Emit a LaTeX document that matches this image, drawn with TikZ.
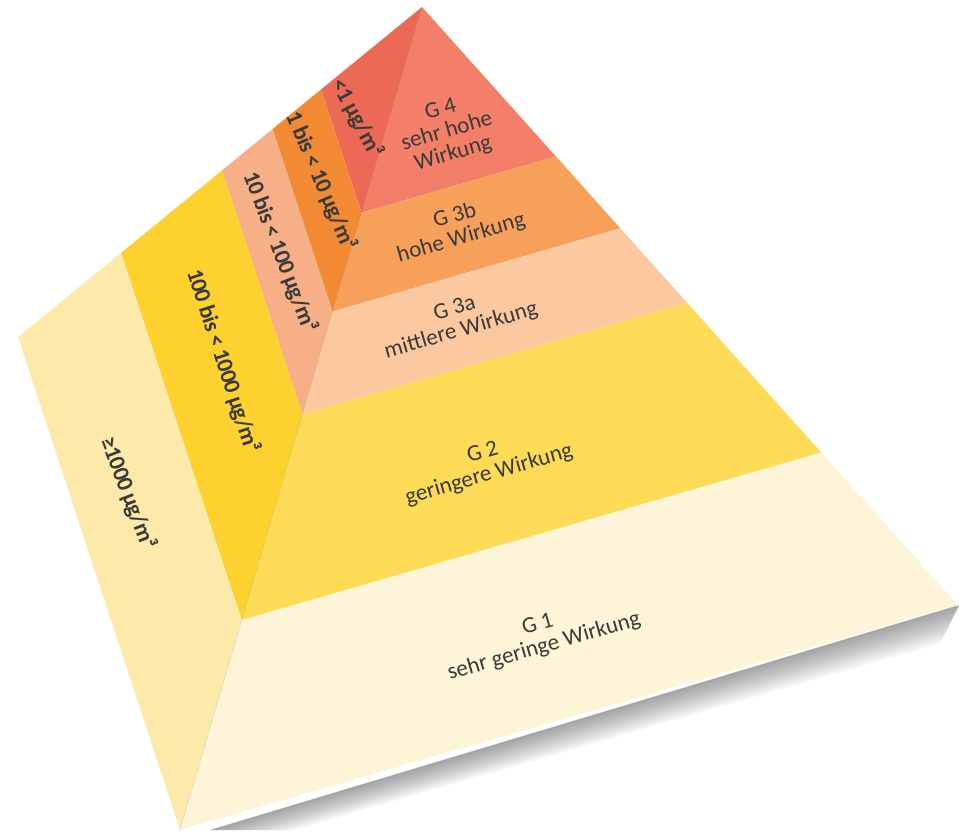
\documentclass[tikz,border=0pt]{standalone}
\usepackage{fontspec}
\setmainfont{Carlito}
\usetikzlibrary{calc}

\definecolor{redL}{HTML}{EC6A55}
\definecolor{redR}{HTML}{F47F69}
\definecolor{orangeL}{HTML}{F28A34}
\definecolor{orangeR}{HTML}{F7A05A}
\definecolor{peachL}{HTML}{F6AF86}
\definecolor{peachR}{HTML}{FCC8A0}
\definecolor{goldL}{HTML}{FDD22F}
\definecolor{goldR}{HTML}{FEDB56}
\definecolor{creamL}{HTML}{FDE9AA}
\definecolor{creamR}{HTML}{FEF4D7}
\definecolor{textgrey}{HTML}{3A3A3A}

\tikzset{
  glabel/.style={text=textgrey, align=center, rotate=16, inner sep=0pt,
    font=\fontsize{23}{23}\selectfont},
  clabel/.style={text=textgrey, inner sep=0pt,
    font=\bfseries\fontsize{23}{23}\selectfont\addfontfeature{LetterSpace=-3}},
}

\begin{document}
\begin{tikzpicture}[x=1pt, y=-1pt]
  \useasboundingbox (0,0) rectangle (959,833);
  % Corners
  \coordinate (A) at (422,7);
  \coordinate (L) at (18,337);
  \coordinate (F) at (180,830);
  \coordinate (R) at (958,605);
  % Band borders
  \foreach \n/\t in {1/0.25, 2/0.37, 3/0.495, 4/0.745}{
    \coordinate (l\n) at ($(A)!\t!(L)$);
    \coordinate (f\n) at ($(A)!\t!(F)$);
    \coordinate (r\n) at ($(A)!\t!(R)$);
  }
  % Shadow
  \foreach \s in {1,...,12}
    \fill[black, opacity=0.035] ($(F)+(30,0)$) -- ($(R)+(0.2*\s,0)$)
      -- ($(R)+(-1.5*\s,3.2*\s)$) -- ($(F)+(30+7*\s,0)$) -- cycle;
  % Left face
  \fill[redL] (A) -- (l1) -- (f1) -- cycle;
  \fill[orangeL] (l1) -- (l2) -- (f2) -- (f1) -- cycle;
  \fill[peachL] (l2) -- (l3) -- (f3) -- (f2) -- cycle;
  \fill[goldL] (l3) -- (l4) -- (f4) -- (f3) -- cycle;
  \fill[creamL] (l4) -- (L) -- (F) -- (f4) -- cycle;
  % Right face
  \fill[redR] (A) -- (f1) -- (r1) -- cycle;
  \fill[orangeR] (f1) -- (f2) -- (r2) -- (r1) -- cycle;
  \fill[peachR] (f2) -- (f3) -- (r3) -- (r2) -- cycle;
  \fill[goldR] (f3) -- (f4) -- (r4) -- (r3) -- cycle;
  \fill[creamR] (f4) -- (F) -- (R) -- (r4) -- cycle;
  % Ridge
  \draw[black, opacity=0.12, line width=0.5pt] (A) -- (F);
  % Concentrations
  \node[clabel, rotate=-62] (c1) at (357,118) {<1 µg/m³};
  \node[clabel, rotate=-67] (c2) at (321,181) {1 bis < 10 µg/m³};
  \node[clabel, rotate=-69] (c3) at (280,252) {10 bis < 100 µg/m³};
  \node[clabel, rotate=-72] (c4) at (223,361) {100 bis < 1000 µg/m³};
  \node[clabel, rotate=-69] (c5) at (128,493) {≥1000 µg/m³};
  % Groups
  \node[glabel] (g4) at (447,132) {G 4\\sehr hohe\\Wirkung};
  \node[glabel] (g3b) at (458,227) {G 3b\\hohe Wirkung};
  \node[glabel] (g3a) at (458,320) {G 3a\\mittlere Wirkung};
  \node[glabel] (g2) at (486,464) {G 2\\geringere Wirkung};
  \node[glabel] (g1) at (541,636) {G 1\\sehr geringe Wirkung};
\end{tikzpicture}
\end{document}
